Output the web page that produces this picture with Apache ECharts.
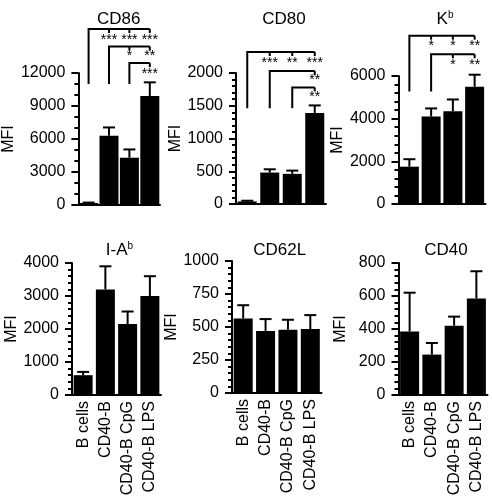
<!DOCTYPE html>
<html><head><meta charset="utf-8">
<script src="https://cdn.jsdelivr.net/npm/echarts@6/dist/echarts.min.js"></script>
<style>html,body{margin:0;padding:0;background:#fff}#c{width:492px;height:501px}</style>
</head><body><div id="c"></div><script>
// ---- data ----
const categories = ['B cells', 'CD40-B', 'CD40-B CpG', 'CD40-B LPS'];
const panelNames = ['CD86', 'CD80', 'Kb', 'I-Ab', 'CD62L', 'CD40'];

const cd86 = [180, 6300, 4300, 9900];
const cd86Err = [40, 750, 750, 1250];
const cd80 = [40, 480, 460, 1390];
const cd80Err = [10, 50, 50, 115];
const kb = [1750, 4100, 4350, 5500];
const kbErr = [350, 380, 550, 560];
const iab = [600, 3200, 2150, 3000];
const iabErr = [100, 700, 380, 600];
const cd62l = [565, 470, 480, 485];
const cd62lErr = [100, 90, 75, 105];
const cd40 = [385, 245, 420, 585];
const cd40Err = [235, 70, 55, 165];

const yMax = [12000, 2000, 6000, 4000, 1000, 800];
const yInterval = [3000, 500, 2000, 1000, 250, 200];
const yMinorSplit = [3, 5, 5, 5, 5, 5];

// significance brackets (category indices, value levels)
const cd86Brackets = [
  {from: 0, to: 3, y: 16000, drop: 11000, ticks: [1, 2, 3]},
  {from: 1, to: 3, y: 14400, drop: 11000, ticks: [2, 3]},
  {from: 2, to: 3, y: 12900, drop: 11000, ticks: [3]}
];
const cd86Stars = [[1, 15000, '***'], [2, 15000, '***'], [3, 15000, '***'], [2, 13500, '*'], [3, 13500, '**'], [3, 11900, '***']];
const cd80Brackets = [
  {from: 0, to: 3, y: 2320, drop: 1460, ticks: [1, 2, 3]},
  {from: 1, to: 3, y: 2030, drop: 1460, ticks: [3]},
  {from: 2, to: 3, y: 1780, drop: 1460, ticks: [3]}
];
const cd80Stars = [[1, 2150, '***'], [2, 2150, '**'], [3, 2150, '***'], [3, 1890, '**'], [3, 1625, '**']];
const kbBrackets = [
  {from: 0, to: 3, y: 7890, drop: 5270, ticks: [1, 2, 3]},
  {from: 1, to: 3, y: 7020, drop: 5270, ticks: [2, 3]}
];
const kbStars = [[1, 7400, '*'], [2, 7400, '*'], [3, 7400, '**'], [2, 6510, '*'], [3, 6510, '**']];

const values = [cd86, cd80, kb, iab, cd62l, cd40];
const errors = [cd86Err, cd80Err, kbErr, iabErr, cd62lErr, cd40Err];
const brackets = [cd86Brackets, cd80Brackets, kbBrackets, [], [], []];
const stars = [cd86Stars, cd80Stars, kbStars, [], [], []];

// ---- layout ----
const FONT = 'Liberation Sans, Arial, Helvetica, sans-serif';
const grids = [
  {left: 71.5, top: 73, width: 88.5, height: 132},
  {left: 236, top: 73, width: 90, height: 131},
  {left: 398.5, top: 76, width: 87, height: 128},
  {left: 72, top: 263, width: 89, height: 132},
  {left: 232, top: 261, width: 89.5, height: 132},
  {left: 398.5, top: 263, width: 89, height: 132}
];
const nameGaps = [51, 7, 50, 50, 43, 50];
const titleTops = [5, 5, 5, 236, 236, 236];

function titleText(n) {
  if (n === 'Kb') return '{n|K}{s|b}';
  if (n === 'I-Ab') return '{n|I-A}{s|b}';
  return '{n|' + n + '}';
}

const chart = echarts.init(document.getElementById('c'), null, {renderer: 'canvas'});
const option = {
  animation: false,
  backgroundColor: '#fff',
  textStyle: {fontFamily: FONT},
  title: grids.map((g, i) => ({
    text: titleText(panelNames[i]),
    left: g.left + g.width / 2 - 2, top: titleTops[i], textAlign: 'center',
    textStyle: {fontWeight: 'normal', rich: {
      n: {fontSize: 17, color: '#000', fontFamily: FONT, fontWeight: 'normal', lineHeight: 18},
      s: {fontSize: 10, color: '#000', fontFamily: FONT, fontWeight: 'normal', verticalAlign: 'top', lineHeight: 18}
    }}
  })),
  grid: grids.map(g => Object.assign({containLabel: false}, g)),
  xAxis: grids.map((g, i) => ({
    type: 'category', gridIndex: i, data: categories,
    axisLine: {lineStyle: {color: '#000', width: 2}},
    axisTick: {show: false},
    axisLabel: {show: i >= 3, rotate: 90, fontSize: 16, color: '#000', fontFamily: FONT, margin: 6, interval: 0}
  })),
  yAxis: grids.map((g, i) => ({
    type: 'value', gridIndex: i, min: 0, max: yMax[i], interval: yInterval[i],
    name: 'MFI', nameLocation: 'middle', nameGap: nameGaps[i],
    nameTextStyle: {fontSize: 16, color: '#000', fontFamily: FONT},
    axisLine: {show: true, lineStyle: {color: '#000', width: 2}},
    axisTick: {show: true, length: 7, lineStyle: {color: '#000', width: 2}},
    minorTick: {show: true, splitNumber: yMinorSplit[i], length: 4, lineStyle: {color: '#000', width: 2}},
    splitLine: {show: false},
    minorSplitLine: {show: false},
    axisLabel: {fontSize: 16, color: '#000', fontFamily: FONT, margin: 13, formatter: v => String(v)}
  })),
  series: []
};

values.forEach((vals, i) => {
  option.series.push({
    type: 'bar', xAxisIndex: i, yAxisIndex: i, data: vals,
    barWidth: 19, itemStyle: {color: '#000'}, silent: true
  });
  option.series.push({
    type: 'custom', xAxisIndex: i, yAxisIndex: i, clip: false, silent: true, z: 3,
    data: vals.map((v, k) => [k, v, errors[i][k]]),
    encode: {x: 0, y: 1},
    renderItem: function (params, api) {
      const k = api.value(0), v = api.value(1), e = api.value(2);
      const p0 = api.coord([k, v]);
      const p1 = api.coord([k, v + e]);
      return {type: 'group', children: [
        {type: 'line', shape: {x1: p0[0], y1: p0[1], x2: p1[0], y2: p1[1]}, style: {stroke: '#000', lineWidth: 2}},
        {type: 'line', shape: {x1: p1[0] - 6, y1: p1[1], x2: p1[0] + 6, y2: p1[1]}, style: {stroke: '#000', lineWidth: 2}}
      ]};
    }
  });
  const brs = brackets[i];
  if (brs.length) {
    option.series.push({
      type: 'custom', xAxisIndex: i, yAxisIndex: i, clip: false, silent: true, z: 4,
      data: brs.map(b => [b.from, b.y]),
      encode: {x: 0, y: 1},
      renderItem: function (params, api) {
        const b = brs[params.dataIndex];
        const pa = api.coord([b.from, b.y]);
        const pb = api.coord([b.to, b.y]);
        const pd = api.coord([b.from, b.drop]);
        const ch = [{type: 'polyline', shape: {points: [[pd[0], pd[1]], [pa[0], pa[1]], [pb[0], pb[1]]]},
          style: {stroke: '#000', lineWidth: 2, fill: null}}];
        b.ticks.forEach(t => {
          const pt = api.coord([t, b.y]);
          ch.push({type: 'line', shape: {x1: pt[0], y1: pt[1], x2: pt[0], y2: pt[1] + 4}, style: {stroke: '#000', lineWidth: 2}});
        });
        return {type: 'group', children: ch};
      }
    });
    const st = stars[i];
    option.series.push({
      type: 'custom', xAxisIndex: i, yAxisIndex: i, clip: false, silent: true, z: 4,
      data: st.map(s => [s[0], s[1]]),
      encode: {x: 0, y: 1},
      renderItem: function (params, api) {
        const s = st[params.dataIndex];
        const p = api.coord([s[0], s[1]]);
        return {type: 'text', style: {text: s[2], x: p[0], y: p[1], align: 'center', verticalAlign: 'middle',
          fontSize: 14, fontFamily: FONT, fill: '#000'}};
      }
    });
  }
});

chart.setOption(option);
</script></body></html>
